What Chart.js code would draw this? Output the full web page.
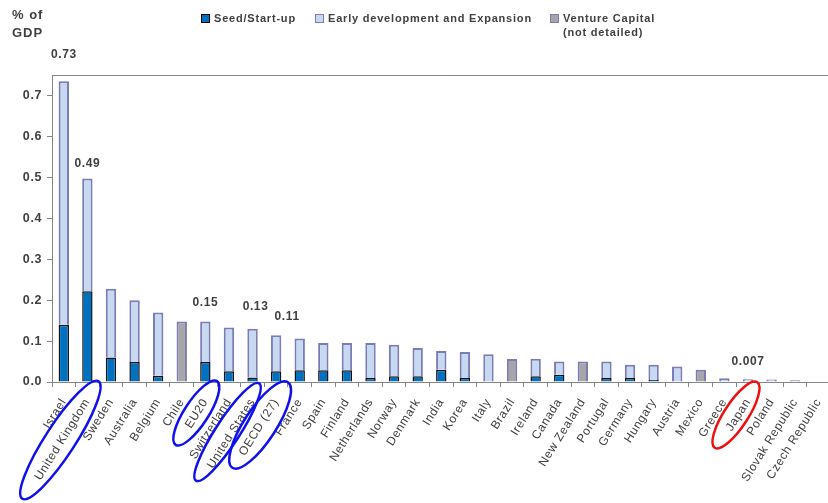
<!DOCTYPE html>
<html lang="en">
<head>
    <meta charset="UTF-8">
    <title>Venture capital investments as % of GDP</title>
    <script src="https://cdn.jsdelivr.net/npm/chart.js"></script>
    <style>
        body {
            margin: 0;
            width: 828px;
            height: 503px;
            overflow: hidden;
            background: #ffffff;
            font-family: "Liberation Sans", Arial, sans-serif;
            position: relative;
        }
        .chart-box {
            position: absolute;
            left: 0;
            top: 0;
            width: 840px;
            height: 503px;
        }
        .unit {
            position: absolute;
            left: 12px;
            top: 6px;
            font-size: 13px;
            font-weight: bold;
            color: #404040;
            line-height: 18px;
            letter-spacing: 1px;
        }
        .legend-item {
            position: absolute;
            top: 11px;
            font-size: 11px;
            font-weight: bold;
            color: #404040;
            line-height: 14px;
            letter-spacing: 0.8px;
        }
        .legend-item span.box {
            position: absolute;
            left: -13px;
            top: 3px;
            width: 7px;
            height: 7px;
        }
    </style>
</head>
<body>

<div class="chart-box">
    <canvas id="vcChart"></canvas>
</div>

<div class="unit">% of<br>GDP</div>

<div class="legend-item" style="left:214px;">
    <span class="box" style="background:#0070c0;border:1px solid #000;"></span>Seed/Start-up
</div>
<div class="legend-item" style="left:328px;">
    <span class="box" style="background:#c6d9f1;border:1px solid #7b7bb5;"></span>Early development and Expansion
</div>
<div class="legend-item" style="left:563px;">
    <span class="box" style="background:#a6a6a6;border:1px solid #7b7bb5;"></span>Venture Capital<br>(not detailed)
</div>

<script>
    // categories, left to right
    const countries = ['Israel', 'United Kingdom', 'Sweden', 'Australia', 'Belgium', 'Chile', 'EU20',
        'Switzerland', 'United States', 'OECD (27)', 'France', 'Spain', 'Finland', 'Netherlands',
        'Norway', 'Denmark', 'India', 'Korea', 'Italy', 'Brazil', 'Ireland', 'Canada', 'New Zealand',
        'Portugal', 'Germany', 'Hungary', 'Austria', 'Mexico', 'Greece', 'Japan', 'Poland',
        'Slovak Republic', 'Czech Republic'];

    // % of GDP
    const seedStartup = [0.14, 0.222, 0.06, 0.049, 0.015, null, 0.049,
        0.026, 0.011, 0.026, 0.029, 0.029, 0.029, 0.01,
        0.014, 0.014, 0.03, 0.01, null, null, 0.014, 0.018, null,
        0.01, 0.01, 0.005, null, null, null, null, null,
        null, null];

    const earlyExpansion = [0.595, 0.275, 0.168, 0.151, 0.155, null, 0.099,
        0.107, 0.119, 0.088, 0.077, 0.066, 0.066, 0.085,
        0.077, 0.069, 0.046, 0.063, 0.068, null, 0.043, 0.032, null,
        0.04, 0.032, 0.037, 0.038, null, 0.009, 0.007, 0.006,
        0.004, 0.001];

    const ventureNotDetailed = [null, null, null, null, null, 0.148, null,
        null, null, null, null, null, null, null,
        null, null, null, null, null, 0.056, null, null, 0.05,
        null, null, null, null, 0.03, null, null, null,
        null, null];

    // value callouts above some bars
    const calloutCountries = ['Israel', 'United Kingdom', 'EU20', 'United States', 'OECD (27)', 'Japan'];
    const calloutTexts = ['0.73', '0.49', '0.15', '0.13', '0.11', '0.007'];

    // hand-drawn rings around some labels
    const ringCountries = ['United Kingdom', 'EU20', 'United States', 'OECD (27)', 'Japan'];

    const yTicks = [0, 0.1, 0.2, 0.3, 0.4, 0.5, 0.6, 0.7];

    // placement tweaks (pixels)
    const calloutOffsets = [[0, 26], [0, 15], [0, 19], [3, 22], [11, 19], [0, 17]];
    const ringStyles = [
        { dx: -27, dy: 58, rx: 70, ry: 15, color: '#1010ee' },
        { dx: -9, dy: 31, rx: 38, ry: 12, color: '#1010ee' },
        { dx: -25, dy: 50, rx: 58, ry: 12, color: '#1010ee' },
        { dx: -16, dy: 43, rx: 51, ry: 16, color: '#1010ee' },
        { dx: -12, dy: 33, rx: 39, ry: 12, color: '#ee1010' }
    ];

    const textColor = '#404040';
    const axisColor = '#868686';

    function stackTotal(i) {
        return (seedStartup[i] || 0) + (earlyExpansion[i] || 0) + (ventureNotDetailed[i] || 0);
    }

    // frame, value callouts and rings
    const decorations = {
        id: 'decorations',
        beforeDraw(chart) {
            // the source renders its text slightly spaced out
            chart.ctx.letterSpacing = '0.6px';
        },
        afterDatasetsDraw(chart) {
            const { ctx, chartArea } = chart;
            ctx.save();
            ctx.strokeStyle = axisColor;
            ctx.lineWidth = 1;
            ctx.beginPath();
            ctx.moveTo(chartArea.left + 0.5, chartArea.bottom);
            ctx.lineTo(chartArea.left + 0.5, chartArea.top + 0.5);
            ctx.lineTo(chartArea.right - 0.5, chartArea.top + 0.5);
            ctx.lineTo(chartArea.right - 0.5, chartArea.bottom);
            ctx.stroke();
            ctx.restore();
        },
        afterDraw(chart) {
            const { ctx, chartArea } = chart;
            const x = chart.scales.x;
            const y = chart.scales.y;
            ctx.save();
            ctx.fillStyle = textColor;
            ctx.font = 'bold 12px "Liberation Sans", Arial, sans-serif';
            ctx.textAlign = 'center';
            ctx.textBaseline = 'middle';
            calloutCountries.forEach((c, k) => {
                const i = countries.indexOf(c);
                const px = x.getPixelForValue(i) + calloutOffsets[k][0];
                const py = y.getPixelForValue(stackTotal(i)) - calloutOffsets[k][1];
                ctx.fillText(calloutTexts[k], px, py);
            });

            ctx.lineWidth = 2.5;
            ringCountries.forEach((c, k) => {
                const i = countries.indexOf(c);
                const s = ringStyles[k];
                ctx.strokeStyle = s.color;
                ctx.beginPath();
                ctx.ellipse(x.getPixelForValue(i) + s.dx, chartArea.bottom + s.dy, s.rx, s.ry,
                    -57 * Math.PI / 180, 0, Math.PI * 2);
                ctx.stroke();
            });
            ctx.restore();
            ctx.letterSpacing = '0px';
        }
    };

    const ctx = document.getElementById('vcChart').getContext('2d');

    new Chart(ctx, {
        type: 'bar',
        data: {
            labels: countries,
            datasets: [
                {
                    label: 'Seed/Start-up',
                    data: seedStartup,
                    backgroundColor: '#0070c0',
                    borderColor: '#111111',
                    borderWidth: 1.5
                },
                {
                    label: 'Early development and Expansion',
                    data: earlyExpansion,
                    backgroundColor: '#c6d9f1',
                    borderColor: '#7b7bb5',
                    borderWidth: 2
                },
                {
                    label: 'Venture Capital (not detailed)',
                    data: ventureNotDetailed,
                    backgroundColor: '#a6a6a6',
                    borderColor: '#7b7bb5',
                    borderWidth: 2
                }
            ]
        },
        options: {
            responsive: true,
            maintainAspectRatio: false,
            animation: false,
            datasets: {
                bar: {
                    categoryPercentage: 1,
                    barPercentage: 0.44
                }
            },
            layout: {
                padding: { top: 75, right: 2, left: 0, bottom: 0 }
            },
            plugins: {
                legend: { display: false },
                tooltip: { enabled: false }
            },
            scales: {
                x: {
                    stacked: true,
                    grid: {
                        offset: true,
                        drawOnChartArea: false,
                        drawTicks: true,
                        tickLength: 5,
                        color: axisColor
                    },
                    border: { color: axisColor },
                    ticks: {
                        autoSkip: false,
                        minRotation: 58,
                        maxRotation: 58,
                        padding: 9,
                        color: textColor,
                        font: { family: '"Liberation Sans", Arial, sans-serif', size: 12 }
                    },
                    afterFit(scale) { scale.height = 121; }
                },
                y: {
                    stacked: true,
                    min: 0,
                    max: 0.75,
                    grid: {
                        drawOnChartArea: false,
                        drawTicks: true,
                        tickLength: 5,
                        color: axisColor
                    },
                    border: { color: axisColor },
                    afterBuildTicks(scale) {
                        scale.ticks = yTicks.map(v => ({ value: v }));
                    },
                    ticks: {
                        padding: 5,
                        color: textColor,
                        font: { family: '"Liberation Sans", Arial, sans-serif', size: 12.5, weight: 'bold' },
                        callback: v => v.toFixed(1)
                    },
                    afterFit(scale) { scale.width = 52; }
                }
            }
        },
        plugins: [decorations]
    });
</script>

</body>
</html>
